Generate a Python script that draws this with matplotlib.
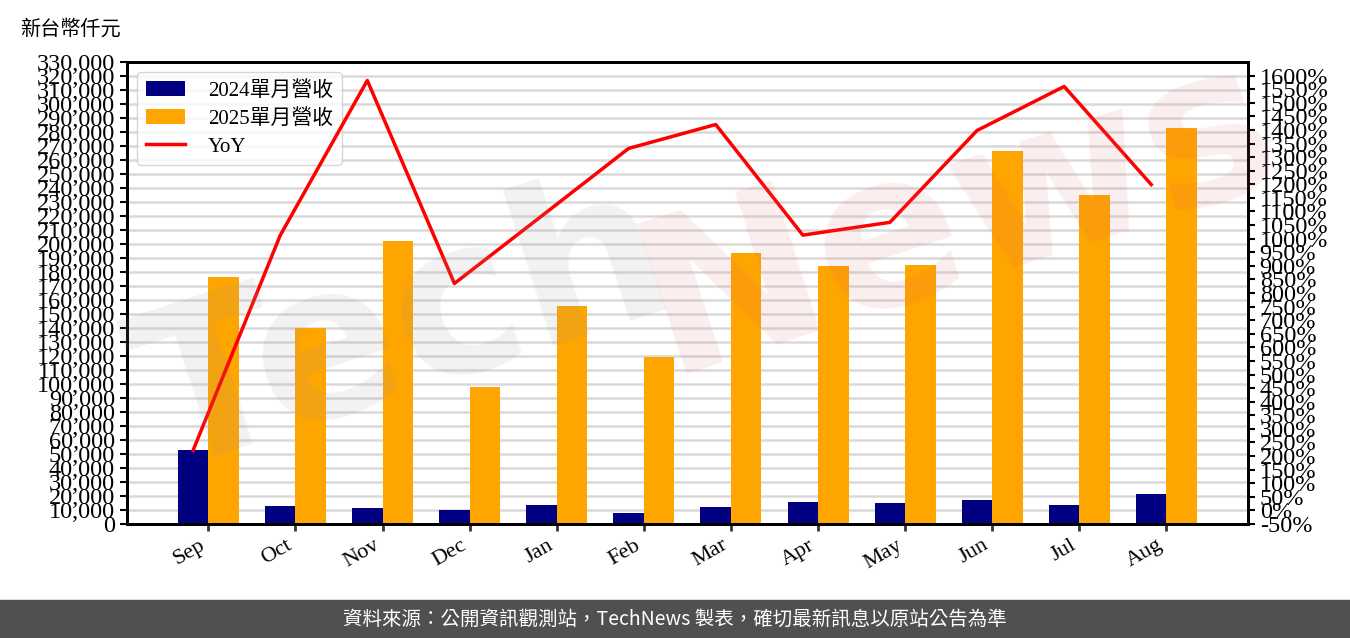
import matplotlib
matplotlib.use("Agg")
import matplotlib.pyplot as plt
import matplotlib.ticker as mticker
import numpy as np

plt.rcParams['font.family'] = ['Liberation Serif', 'Noto Sans CJK TC', 'DejaVu Sans']

# 資料 (單位: 新台幣仟元)
months = ["Sep", "Oct", "Nov", "Dec", "Jan", "Feb", "Mar", "Apr", "May", "Jun", "Jul", "Aug"]
rev_2024 = [52900, 12600, 11600, 10200, 13300, 8100, 12400, 15900, 15200, 17400, 13800, 21600]
rev_2025 = [176400, 140000, 202100, 97900, 155700, 119300, 193600, 184300, 185000, 266400, 235000, 282900]
yoy = [221, 1012, 1582, 835, 1083, 1332, 1420, 1013, 1060, 1398, 1560, 1199]

x = np.arange(len(months))
width = 0.35

fig = plt.figure(figsize=(13.5, 6.38), dpi=100)
ax = fig.add_axes([0.094, 0.1787, 0.8304, 0.7241])
ax2 = ax.twinx()

b1 = ax.bar(x - width / 2, rev_2024, width, color='navy', label='2024單月營收', zorder=2)
b2 = ax.bar(x + width / 2, rev_2025, width, color='orange', label='2025單月營收', zorder=2)
l1, = ax2.plot(x - width / 2, yoy, color='red', linewidth=2.5, label='YoY')

# 左軸
ax.set_ylim(0, 330000)
ax.set_yticks(np.arange(0, 330001, 10000))
ax.yaxis.set_major_formatter(mticker.FuncFormatter(lambda v, p: f"{int(v):,}"))
ax.tick_params(axis='y', labelsize=17.5, width=1.5, length=5)
ax.grid(axis='y', color='#d9d9d9', linewidth=1.8, zorder=0)
ax.set_axisbelow(True)

ax.set_xticks(x)
ax.set_xticklabels(months, rotation=30, ha='right', fontsize=16)
ax.tick_params(axis='x', width=2, length=5, color='#333333')

# 右軸
ax2.set_ylim(-50, 1650)
ax2.set_yticks(np.arange(-50, 1601, 50))
ax2.yaxis.set_major_formatter(mticker.FuncFormatter(lambda v, p: f"{int(v)}%"))
ax2.tick_params(axis='y', labelsize=17.5, width=1.5, length=5)

for a in (ax, ax2):
    for s in a.spines.values():
        s.set_linewidth(2)

ax.legend([b1, b2, l1], ['2024單月營收', '2025單月營收', 'YoY'], loc='upper left',
          fontsize=15, frameon=True, edgecolor='#cccccc', framealpha=0.8,
          bbox_to_anchor=(0.0, 1.0), handlelength=1.9, handletextpad=1.1,
          labelspacing=0.4)

fig.text(0.015, 0.955, '新台幣仟元', fontsize=14.5, family=['Noto Sans CJK TC'], va='center')

# 浮水印
fig.text(0.30, 0.48, 'Tech', fontsize=155, fontweight='bold', color='#999999', alpha=0.13,
         rotation=18, ha='center', va='center', family=['DejaVu Sans'], zorder=5)
fig.text(0.71, 0.66, 'News', fontsize=155, fontweight='bold', color='#e06070', alpha=0.11,
         rotation=18, ha='center', va='center', family=['DejaVu Sans'], zorder=5)

# 頁尾
fig.patches.append(plt.Rectangle((0, 0), 1, 0.0596, transform=fig.transFigure,
                                 color='#505050', zorder=0))
fig.text(0.5, 0.0298, '資料來源：公開資訊觀測站，TechNews 製表，確切最新訊息以原站公告為準',
         color='white', fontsize=14, ha='center', va='center', family=['Noto Sans CJK TC'])

fig.savefig('out.png', dpi=100)
